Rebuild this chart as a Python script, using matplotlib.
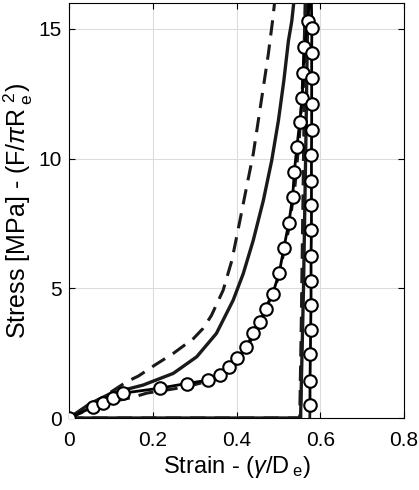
import matplotlib
matplotlib.use("Agg")
import matplotlib.pyplot as plt

plt.rcParams['font.family'] = ['Liberation Sans', 'DejaVu Sans']
plt.rcParams['mathtext.fontset'] = 'custom'
plt.rcParams['mathtext.rm'] = 'Liberation Sans'
plt.rcParams['mathtext.it'] = 'Liberation Sans:italic'

# Model A (dashed, upper)
dashA_strain = [0, 0.05, 0.1, 0.138, 0.166, 0.205, 0.249, 0.297, 0.32, 0.34, 0.368, 0.389, 0.408, 0.424,
                0.44, 0.452, 0.464, 0.476, 0.486, 0.495, 0.5,
                0.566, 0.56, 0.555, 0.551, 0.0]
dashA_stress = [0, 0.5, 1.0, 1.4, 1.62, 2.04, 2.49, 3.06, 3.45, 3.95, 4.92, 6.08, 7.6, 8.9,
                10.18, 11.46, 12.74, 14.03, 15.3, 16.6, 18.0,
                18.0, 10.0, 4.0, 0.0, 0.0]

# Model B (solid)
solid_strain = [0, 0.05, 0.1, 0.177, 0.249, 0.305, 0.352, 0.392, 0.416, 0.44, 0.464, 0.484, 0.5,
                0.513, 0.524, 0.532, 0.54, 0.545,
                0.572, 0.566, 0.56, 0.553, 0.0]
solid_stress = [0, 0.55, 0.95, 1.27, 1.72, 2.36, 3.26, 4.54, 5.56, 6.85, 8.38, 9.92, 11.46,
                13.0, 14.54, 15.3, 16.5, 18.0,
                18.0, 11.0, 5.0, 0.0, 0.0]

# Model C (dashed, close to experiment)
dashC_strain = [0, 0.05, 0.1, 0.153, 0.186, 0.28, 0.35, 0.4, 0.45, 0.5, 0.525, 0.54, 0.55, 0.556,
                0.561, 0.565, 0.569, 0.563, 0.557, 0.553]
dashC_stress = [0, 0.35, 0.62, 0.8, 0.96, 1.2, 1.5, 2.1, 3.4, 5.4, 7.3, 9.0, 10.8, 12.3,
                14.0, 16.5, 17.5, 10.0, 4.0, 0.0]

# Experiment (circles)
exp_strain = [0, 0.057, 0.081, 0.105, 0.13, 0.217, 0.281, 0.333, 0.36, 0.383, 0.402, 0.423, 0.44,
              0.455, 0.47, 0.486, 0.502, 0.513, 0.525, 0.534, 0.538, 0.544, 0.551, 0.557, 0.559,
              0.562, 0.571, 0.577,
              0.58, 0.5795, 0.5795, 0.5795, 0.5795, 0.579, 0.579, 0.579, 0.579, 0.578, 0.578,
              0.578, 0.577, 0.5765, 0.5755, 0.5755]
exp_stress = [0, 0.42, 0.58, 0.77, 0.96, 1.15, 1.33, 1.46, 1.65, 1.95, 2.3, 2.74, 3.26,
              3.7, 4.22, 4.77, 5.59, 6.55, 7.53, 8.51, 9.47, 10.43, 11.4, 12.35, 13.3,
              14.3, 15.3, 17.5,
              15.05, 14.07, 13.1, 12.1, 11.1, 10.15, 9.15, 8.2, 7.25, 6.25, 5.3,
              4.35, 3.4, 2.45, 1.43, 0.5]
exp_tail_strain = [0.5755, 0.575]
exp_tail_stress = [0.5, 0.0]

xticks = [0, 0.2, 0.4, 0.6, 0.8]
xticklabels = ['0', '0.2', '0.4', '0.6', '0.8']
yticks = [0, 5, 10, 15]

fig = plt.figure(figsize=(4.19, 4.90), dpi=100)
ax = fig.add_axes([69/419, 72/490, 335/419, 415/490])

c = '#1a1a1a'
ax.plot(dashA_strain, dashA_stress, color=c, lw=2.2, ls=(0, (5, 3)), zorder=3)
ax.plot(dashC_strain, dashC_stress, color=c, lw=2.2, ls=(0, (5, 3)), zorder=3)
ax.plot(solid_strain, solid_stress, color=c, lw=2.4, ls='-', zorder=4)
ax.plot(exp_tail_strain, exp_tail_stress, color=c, lw=2.0, zorder=5)
ax.plot(exp_strain, exp_stress, color='black', lw=2.0, marker='o', ms=9,
        mfc='white', mec='black', mew=1.5, zorder=6)

ax.set_xlim(0, 0.8)
ax.set_ylim(0, 16)
ax.set_xticks(xticks)
ax.set_xticklabels(xticklabels)
ax.set_yticks(yticks)
ax.tick_params(direction='in', labelsize=15, length=4, width=0.8, top=True, right=True)
ax.tick_params(axis='x', pad=9)
ax.tick_params(axis='y', pad=5)
ax.grid(True, color='#dcdcdc', lw=0.8)
ax.set_axisbelow(True)
for s in ax.spines.values():
    s.set_linewidth(0.8)

ax.set_xlabel(r'Strain - ($\gamma$/D$\,_{\mathrm{e}}$)', fontsize=17, labelpad=3)
ax.set_ylabel(r'Stress [MPa] - (F/$\pi$R$\,_{\mathrm{e}}^{\,2}$)', fontsize=18, labelpad=3)

fig.savefig('out.png', dpi=100)
